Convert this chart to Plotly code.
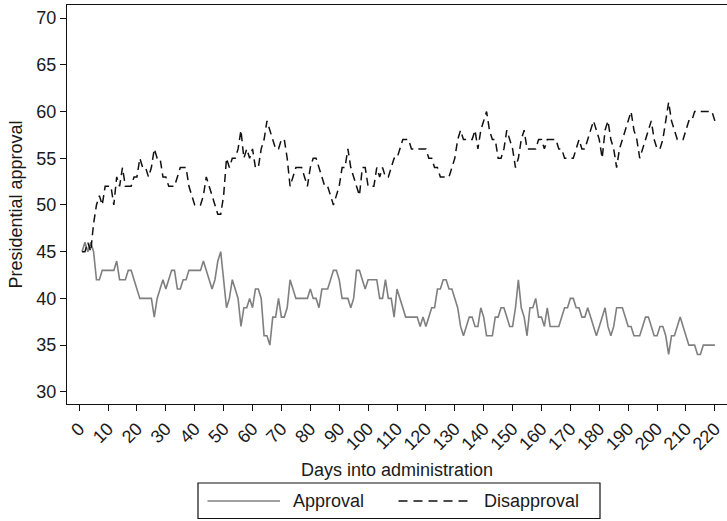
import plotly.graph_objects as go

days = list(range(1, 221))

approval = [
    45, 46, 45, 46, 45, 42, 42, 43, 43, 43,
    43, 43, 44, 42, 42, 42, 43, 43, 42, 41,
    40, 40, 40, 40, 40, 38, 40, 41, 42, 41,
    42, 43, 43, 41, 41, 42, 42, 43, 43, 43,
    43, 43, 44, 43, 42, 41, 42, 44, 45, 42,
    39, 40, 42, 41, 40, 37, 39, 39, 40, 39,
    41, 41, 40, 36, 36, 35, 38, 38, 40, 38,
    38, 39, 42, 41, 40, 40, 40, 40, 40, 41,
    40, 40, 39, 41, 41, 41, 42, 43, 43, 42,
    40, 40, 40, 39, 40, 43, 43, 42, 41, 42,
    42, 42, 42, 40, 40, 42, 40, 40, 38, 41,
    40, 39, 38, 38, 38, 38, 38, 37, 38, 37,
    38, 39, 39, 41, 41, 42, 42, 41, 41, 40,
    39, 37, 36, 37, 38, 38, 37, 37, 39, 38,
    36, 36, 36, 38, 38, 39, 39, 38, 37, 37,
    39, 42, 39, 38, 36, 39, 39, 40, 38, 38,
    37, 39, 37, 37, 37, 37, 38, 39, 39, 40,
    40, 39, 39, 38, 38, 39, 38, 37, 36, 37,
    38, 39, 37, 36, 37, 39, 39, 39, 38, 37,
    37, 36, 36, 36, 37, 38, 38, 37, 36, 36,
    37, 37, 36, 34, 36, 36, 37, 38, 37, 36,
    35, 35, 35, 34, 34, 35, 35, 35, 35, 35,
]

disapproval = [
    45, 45, 46, 45, 48, 50, 51, 50, 52, 52,
    52, 50, 53, 52, 54, 52, 52, 52, 53, 53,
    55, 54, 54, 53, 54, 56, 55, 55, 53, 53,
    52, 52, 52, 53, 54, 54, 54, 52, 51, 50,
    50, 50, 51, 53, 52, 51, 50, 49, 49, 51,
    55, 54, 55, 55, 56, 58, 55, 56, 55, 56,
    54, 54, 56, 57, 59, 58, 57, 56, 56, 57,
    57, 55, 52, 53, 54, 54, 54, 53, 52, 54,
    55, 55, 54, 53, 52, 52, 51, 50, 51, 52,
    54, 54, 56, 54, 53, 52, 51, 54, 54, 52,
    52, 52, 54, 53, 54, 53, 53, 54, 55, 55,
    56, 57, 57, 57, 56, 56, 56, 56, 56, 56,
    55, 55, 54, 54, 53, 53, 53, 53, 54, 55,
    57, 58, 57, 57, 57, 57, 58, 56, 58, 59,
    60, 58, 57, 57, 55, 55, 56, 58, 57, 56,
    54, 55, 57, 58, 56, 56, 56, 56, 57, 57,
    56, 57, 57, 57, 57, 56, 56, 55, 55, 55,
    55, 56, 57, 56, 56, 57, 58, 59, 58, 57,
    55, 58, 59, 57, 56, 54, 56, 57, 58, 59,
    60, 58, 57, 55, 56, 57, 58, 59, 57, 56,
    56, 57, 59, 61, 59, 58, 57, 57, 57, 58,
    59, 59, 60, 60, 60, 60, 60, 60, 60, 59,
]

x_ticks = list(range(0, 221, 10))
y_ticks = list(range(30, 71, 5))
series_names = ["Approval", "Disapproval"]

FONT = "Liberation Sans, Arial, sans-serif"
TXT = "#1a1a1a"
GRAY = "#7f7f7f"
DASH = "8px,5px"

fig = go.Figure()
fig.add_trace(go.Scatter(x=days, y=approval, mode="lines", name=series_names[0],
                         line=dict(color=GRAY, width=1.6), showlegend=False))
fig.add_trace(go.Scatter(x=days, y=disapproval, mode="lines", name=series_names[1],
                         line=dict(color="#111111", width=1.5, dash=DASH), showlegend=False))

L, R, T, B = 67, 0, 5, 117
W, H = 727, 521
pw, ph = W - L - R, H - T - B

def px(xp):
    return (xp - L) / pw

def py(yp):
    return (H - B - yp) / ph

# manual legend box (styling only)
fig.add_shape(type="rect", xref="paper", yref="paper",
              x0=px(198), x1=px(600), y0=py(483), y1=py(518.5),
              line=dict(color="#111111", width=1.2), fillcolor="white")
fig.add_shape(type="line", xref="paper", yref="paper",
              x0=px(207.5), x1=px(280), y0=py(501), y1=py(501),
              line=dict(color=GRAY, width=1.6))
fig.add_shape(type="line", xref="paper", yref="paper",
              x0=px(398.5), x1=px(468.5), y0=py(501), y1=py(501),
              line=dict(color="#111111", width=1.5, dash="9px,6px"))
fig.add_annotation(xref="paper", yref="paper", x=px(291), y=py(501),
                   text=series_names[0], showarrow=False, xanchor="left", yanchor="middle",
                   font=dict(family=FONT, size=18, color=TXT))
fig.add_annotation(xref="paper", yref="paper", x=px(482), y=py(501),
                   text=series_names[1], showarrow=False, xanchor="left", yanchor="middle",
                   font=dict(family=FONT, size=18, color=TXT))

fig.update_layout(
    width=W, height=H,
    margin=dict(l=L, r=R, t=T, b=B, autoexpand=False),
    paper_bgcolor="white", plot_bgcolor="white",
    font=dict(family=FONT, size=18, color=TXT),
    showlegend=False,
    xaxis=dict(
        range=[-4.2, 224.2], tickmode="array", tickvals=x_ticks,
        ticktext=[str(v) for v in x_ticks], tickangle=-45,
        ticks="outside", ticklen=6, tickwidth=1.2, tickcolor="#111111",
        showline=True, linecolor="#111111", linewidth=1.3, mirror=True,
        showgrid=False, zeroline=False, automargin=False,
        ticklabeloverflow="allow",
        tickfont=dict(family=FONT, size=18, color=TXT),
        title=dict(text="Days into administration", standoff=10,
                   font=dict(family=FONT, size=18, color=TXT)),
    ),
    yaxis=dict(
        range=[28.7, 71.4], tickmode="array", tickvals=y_ticks,
        ticktext=[str(v) for v in y_ticks],
        ticks="outside", ticklen=6, tickwidth=1.2, tickcolor="#111111",
        showline=True, linecolor="#111111", linewidth=1.3, mirror=False,
        showgrid=False, zeroline=False, automargin=False,
        tickfont=dict(family=FONT, size=18, color=TXT),
        title=dict(text="Presidential approval", standoff=8,
                   font=dict(family=FONT, size=18, color=TXT)),
    ),
)

fig.write_html("out.html", config={"displayModeBar": False},
               post_script="document.body.style.margin='0px';")
